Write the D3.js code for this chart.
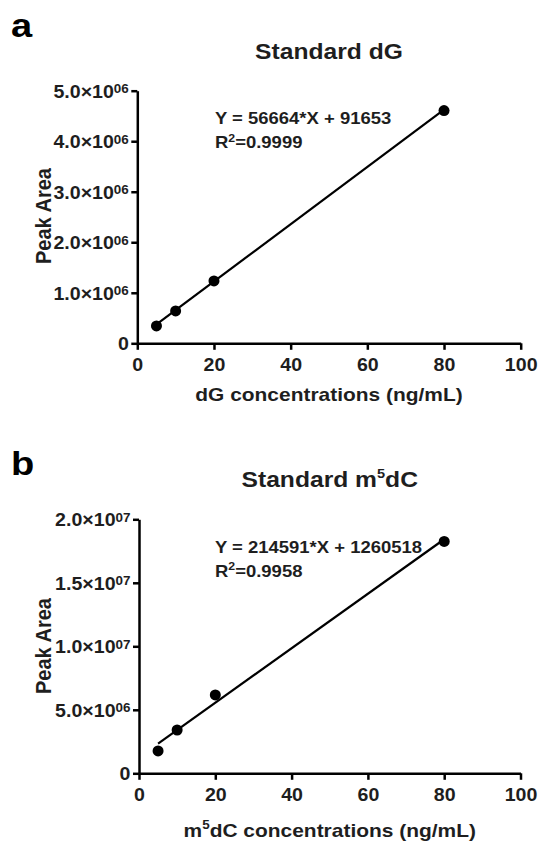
<!DOCTYPE html>
<html>
<head>
<meta charset="utf-8">
<script src="https://cdn.jsdelivr.net/npm/d3@7"></script>
<style>
  html, body { margin: 0; padding: 0; background: #fff; }
  svg { display: block; }
</style>
</head>
<body>
<svg id="chart" width="539" height="846"></svg>
<script>
// ---------------- data ----------------
const concentrations = [5, 10, 20, 80];
const dGPeakArea = [343000, 640000, 1234000, 4606000];
const m5dCPeakArea = [1760000, 3410000, 6170000, 18260000];

const dGFit = [56664, 91653];          // slope, intercept
const m5dCFit = [214591, 1260518];     // slope, intercept
const fitRange = [5, 80];

const xTicks = [0, 20, 40, 60, 80, 100];

const dGYTicks = [0, 1e6, 2e6, 3e6, 4e6, 5e6];
const dGYTickMain = ["0", "1.0×10", "2.0×10", "3.0×10", "4.0×10", "5.0×10"];
const dGYTickExp = ["", "06", "06", "06", "06", "06"];

const m5dCYTicks = [0, 5e6, 1e7, 1.5e7, 2e7];
const m5dCYTickMain = ["0", "5.0×10", "1.0×10", "1.5×10", "2.0×10"];
const m5dCYTickExp = ["", "06", "07", "07", "07"];

const dGEquation = "Y = 56664*X + 91653";
const dGR2 = "=0.9999";
const m5dCEquation = "Y = 214591*X + 1260518";
const m5dCR2 = "=0.9958";

// ---------------- drawing ----------------
const SX = 1.12;
const FONT = "'Liberation Sans', Arial, Helvetica, sans-serif";
const TXT = "#1e1e1e";
const svg = d3.select("#chart");
svg.append("rect").attr("width", 539).attr("height", 846).attr("fill", "#fff");

function sText(parent, x, y, size, anchor) {
  return parent.append("text")
    .attr("transform", `translate(${x},${y}) scale(${SX},1)`)
    .attr("text-anchor", anchor)
    .attr("font-family", FONT)
    .attr("font-weight", "bold")
    .attr("font-size", size)
    .attr("fill", TXT);
}

function panel(o) {
  const g = svg.append("g");
  const x = d3.scaleLinear().domain([0, 100]).range([o.left, o.right]);
  const y = d3.scaleLinear().domain([0, o.ymax]).range([o.bottom, o.top]);

  // x axis
  const xa = g.append("g")
    .attr("transform", `translate(0,${o.bottom})`)
    .call(d3.axisBottom(x).tickValues(xTicks).tickSize(6.5).tickSizeOuter(0)
      .tickFormat(d3.format("d")));
  xa.selectAll("text")
    .attr("y", null).attr("dy", null)
    .attr("transform", `translate(0,27.7) scale(${SX},1)`)
    .attr("font-family", FONT).attr("font-weight", "bold")
    .attr("font-size", 17.5).attr("fill", TXT);

  // y axis
  const ya = g.append("g")
    .attr("transform", `translate(${o.left},0)`)
    .call(d3.axisLeft(y).tickValues(o.yTicks).tickSize(6).tickSizeOuter(0)
      .tickFormat(() => ""));
  ya.selectAll(".tick text").each(function(d, i) {
    const t = d3.select(this);
    t.attr("x", null).attr("dy", null)
      .attr("transform", `translate(-8.5,6.6) scale(${SX},1)`)
      .attr("text-anchor", "end")
      .attr("font-family", FONT).attr("font-weight", "bold")
      .attr("font-size", 17.5).attr("fill", TXT);
    t.text(null);
    t.append("tspan").text(o.yMain[i]);
    if (o.yExp[i]) {
      t.append("tspan").attr("font-size", 12).attr("dy", -4.6).text(o.yExp[i]);
    }
  });

  [xa, ya].forEach(a => {
    a.selectAll(".domain, .tick line")
      .attr("stroke", "#000").attr("stroke-width", 2.5);
  });

  // regression line
  g.append("path")
    .datum(fitRange)
    .attr("fill", "none").attr("stroke", "#000").attr("stroke-width", 2.2)
    .attr("d", d3.line().x(d => x(d)).y(d => y(o.fit[0] * d + o.fit[1])));

  // points
  g.selectAll("circle.pt")
    .data(concentrations.map((c, i) => [c, o.values[i]]))
    .join("circle")
    .attr("class", "pt")
    .attr("cx", d => x(d[0])).attr("cy", d => y(d[1]))
    .attr("r", 5.5).attr("fill", "#000");

  // equation
  sText(g, 215, o.eqY, 16.5, "start").text(o.equation);
  const r2 = sText(g, 215, o.eqY + 24, 16.5, "start");
  r2.append("tspan").text("R");
  r2.append("tspan").attr("font-size", 11).attr("dy", -6.5).text("2");
  r2.append("tspan").attr("dy", 6.5).text(o.r2);

  // title
  const ti = sText(g, (o.left + o.right) / 2, o.titleY, 22, "middle");
  o.titleParts(ti, 13, -8.5);

  // x title
  const xt = sText(g, (o.left + o.right) / 2, o.xTitleY, 18.7, "middle");
  o.xTitleParts(xt, 12, -7.5);

  // y title
  g.append("text")
    .attr("transform", `translate(${o.yTitleX},${o.yTitleCY}) scale(${SX},1) rotate(-90)`)
    .attr("text-anchor", "middle")
    .attr("font-family", FONT).attr("font-weight", "bold")
    .attr("font-size", 20).attr("fill", TXT)
    .text("Peak Area");

  // panel letter
  g.append("text")
    .attr("transform", `translate(11,${o.letterY}) scale(${SX},1)`)
    .attr("font-family", FONT).attr("font-weight", "bold")
    .attr("font-size", 34).attr("fill", "#000")
    .text(o.letter);
}

panel({
  left: 137.3, right: 520.7, top: 90.7, bottom: 343.3, ymax: 5e6,
  yTicks: dGYTicks, yMain: dGYTickMain, yExp: dGYTickExp,
  values: dGPeakArea, fit: dGFit,
  equation: dGEquation, r2: dGR2, eqY: 124.3,
  titleY: 59.3,
  titleParts: (t) => t.text("Standard dG"),
  xTitleY: 400.5,
  xTitleParts: (t) => t.text("dG concentrations (ng/mL)"),
  yTitleX: 50.5, yTitleCY: 216,
  letter: "a", letterY: 37
});

panel({
  left: 139, right: 520.5, top: 519.3, bottom: 773.3, ymax: 2e7,
  yTicks: m5dCYTicks, yMain: m5dCYTickMain, yExp: m5dCYTickExp,
  values: m5dCPeakArea, fit: m5dCFit,
  equation: m5dCEquation, r2: m5dCR2, eqY: 552.7,
  titleY: 486.7,
  titleParts: (t, s, dy) => {
    t.append("tspan").text("Standard m");
    t.append("tspan").attr("font-size", s).attr("dy", dy).text("5");
    t.append("tspan").attr("dy", -dy).text("dC");
  },
  xTitleY: 836.5,
  xTitleParts: (t, s, dy) => {
    t.append("tspan").text("m");
    t.append("tspan").attr("font-size", s).attr("dy", dy).text("5");
    t.append("tspan").attr("dy", -dy).text("dC concentrations (ng/mL)");
  },
  yTitleX: 51, yTitleCY: 646,
  letter: "b", letterY: 475
});
</script>
</body>
</html>
